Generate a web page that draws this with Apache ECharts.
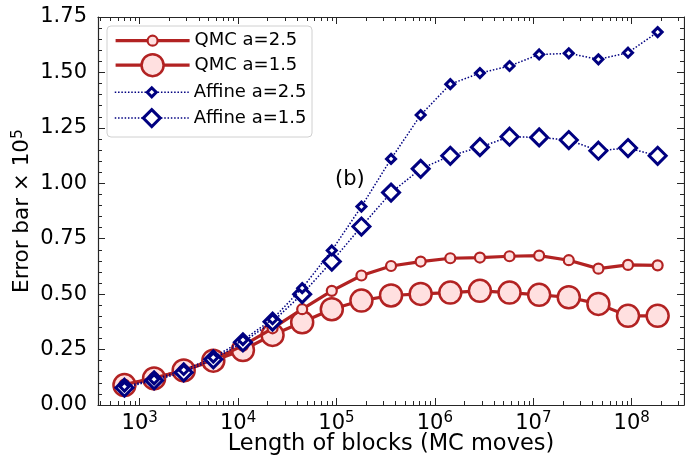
<!DOCTYPE html>
<html><head><meta charset="utf-8">
<script src="https://cdn.jsdelivr.net/npm/echarts@6/dist/echarts.min.js"></script>
<style>html,body{margin:0;padding:0;background:#fff}#c{width:685px;height:462px}</style>
</head><body><div id="c"></div>
<script>
// Block lengths (MC moves)
var blockLengths = [700, 1400, 2800, 5600, 11200, 22400, 44800, 89600, 179200, 358400, 716800, 1433600, 2867200, 5734400, 11468800, 22937600, 45875200, 91750400, 183500800];
var qmcA25 = [0.092, 0.122, 0.156, 0.205, 0.268, 0.346, 0.432, 0.515, 0.584, 0.627, 0.647, 0.662, 0.665, 0.671, 0.674, 0.653, 0.615, 0.632, 0.630];
var qmcA15 = [0.090, 0.120, 0.156, 0.200, 0.248, 0.316, 0.373, 0.432, 0.471, 0.494, 0.501, 0.507, 0.515, 0.507, 0.497, 0.486, 0.456, 0.402, 0.402];
var affA25 = [0.083, 0.116, 0.158, 0.214, 0.293, 0.387, 0.527, 0.697, 0.895, 1.110, 1.308, 1.447, 1.497, 1.529, 1.581, 1.586, 1.559, 1.589, 1.682];
var affA15 = [0.078, 0.111, 0.147, 0.206, 0.283, 0.376, 0.500, 0.647, 0.805, 0.958, 1.065, 1.124, 1.163, 1.210, 1.207, 1.195, 1.147, 1.159, 1.124];
var seriesNames = ['QMC a=2.5', 'QMC a=1.5', 'Affine a=2.5', 'Affine a=1.5'];
var xMajorTicks = [1e3, 1e4, 1e5, 1e6, 1e7, 1e8];

var xMin = 377, xMax = 3.4e8;
var xMinorTicks = [];
[100, 1e3, 1e4, 1e5, 1e6, 1e7, 1e8].forEach(function (d) {
  for (var k = 2; k <= 9; k++) { var v = d * k; if (v > xMin && v < xMax) xMinorTicks.push(v); }
});
function pairs(ys) { return blockLengths.map(function (x, i) { return [x, ys[i]]; }); }

var FONT = 'DejaVu Sans';
var RED = '#b22222', PINK = '#ffe0e0', NAVY = '#000080';
var axisColor = '#262626';
var symSizes = [10, 22, 9, 17];

function xAxisDef(pos, major) {
  return {
    type: 'log', logBase: 10, min: xMin, max: xMax, position: pos, gridIndex: 0,
    axisLine: { show: major, onZero: false, lineStyle: { color: axisColor, width: 1.2 } },
    axisTick: { show: true, inside: true, length: major ? 7 : 4, customValues: major ? xMajorTicks : xMinorTicks,
      lineStyle: { color: axisColor, width: 1 } },
    axisLabel: { show: major && pos === 'bottom', customValues: xMajorTicks, margin: 6,
      formatter: function (v) { return '{b|10}{s|' + Math.round(Math.log10(v)) + '}'; },
      rich: { b: { fontFamily: FONT, fontSize: 21, color: '#000' }, s: { fontFamily: FONT, fontSize: 15, color: '#000', padding: [0, 0, 10, 0] } } },
    splitLine: { show: false }, minorTick: { show: false }, minorSplitLine: { show: false },
    name: (major && pos === 'bottom') ? 'Length of blocks (MC moves)' : '',
    nameLocation: 'middle', nameGap: 28, nameMoveOverlap: false,
    nameTextStyle: { fontFamily: FONT, fontSize: 22.5, color: '#000' }
  };
}
function yAxisDef(pos) {
  return {
    type: 'value', min: 0, max: 1.75, interval: 0.25, position: pos,
    axisLine: { show: true, onZero: false, lineStyle: { color: axisColor, width: 1.2 } },
    axisTick: { show: true, inside: true, length: 7, lineStyle: { color: axisColor, width: 1 } },
    minorTick: { show: true, splitNumber: 5, length: 4, lineStyle: { color: axisColor, width: 1 } },
    axisLabel: { show: pos === 'left', margin: 11, fontFamily: FONT, fontSize: 21, color: '#000',
      formatter: function (v) { return v.toFixed(2); } },
    splitLine: { show: false },
    name: pos === 'left' ? '{a|Error bar \u00d7 10}{s|5}' : '',
    nameLocation: 'middle', nameGap: 63, nameRotate: 90, nameMoveOverlap: false,
    nameTextStyle: { rich: { a: { fontFamily: FONT, fontSize: 21.5, color: '#000' }, s: { fontFamily: FONT, fontSize: 15.5, color: '#000', padding: [0, 0, 9, 0] } } }
  };
}

// one legend per row so each row keeps its own marker size
var rowCenters = [40.7, 66.7, 92.3, 118.7];
var legends = seriesNames.map(function (n, i) {
  var ih = symSizes[i] / 0.8;
  return {
    orient: 'vertical', left: 114, top: rowCenters[i] - Math.max(ih, 20) / 2,
    itemWidth: 74, itemHeight: ih, padding: 0, z: 6,
    textStyle: { fontFamily: FONT, fontSize: 18, color: '#000', lineHeight: 20 },
    lineStyle: { width: 'inherit', type: 'inherit' },
    itemStyle: { borderWidth: 'inherit' },
    data: [n]
  };
});

var chart = echarts.init(document.getElementById('c'), null, { renderer: 'canvas' });
chart.setOption({
  animation: false,
  backgroundColor: '#fff',
  grid: { left: 98, right: 1, top: 17, bottom: 57, containLabel: false, outerBoundsMode: 'none' },
  xAxis: [xAxisDef('bottom', true), xAxisDef('bottom', false), xAxisDef('top', true), xAxisDef('top', false)],
  yAxis: [yAxisDef('left'), yAxisDef('right')],
  legend: legends,
  graphic: [
    { type: 'rect', z: 5, shape: { x: 107, y: 26, width: 205, height: 111, r: 4 },
      style: { fill: 'rgba(255,255,255,0.85)', stroke: '#d0d0d0', lineWidth: 1 } },
    { type: 'text', z: 5, left: 335, top: 169, style: { text: '(b)', fontFamily: FONT, fontSize: 21, fill: '#000' } }
  ],
  series: [
    { name: seriesNames[0], type: 'line', data: pairs(qmcA25), z: 3,
      symbol: 'circle', symbolSize: symSizes[0], showAllSymbol: true,
      lineStyle: { color: RED, width: 3.2 },
      itemStyle: { color: PINK, borderColor: RED, borderWidth: 2.2 } },
    { name: seriesNames[1], type: 'line', data: pairs(qmcA15), z: 2,
      symbol: 'circle', symbolSize: symSizes[1], showAllSymbol: true,
      lineStyle: { color: RED, width: 3.2 },
      itemStyle: { color: PINK, borderColor: RED, borderWidth: 2.5 } },
    { name: seriesNames[2], type: 'line', data: pairs(affA25), z: 4.5,
      symbol: 'diamond', symbolSize: symSizes[2], showAllSymbol: true,
      lineStyle: { color: NAVY, width: 1.5, type: [1.5, 1.8] },
      itemStyle: { color: '#fff', borderColor: NAVY, borderWidth: 3 } },
    { name: seriesNames[3], type: 'line', data: pairs(affA15), z: 4,
      symbol: 'diamond', symbolSize: symSizes[3], showAllSymbol: true,
      lineStyle: { color: NAVY, width: 1.5, type: [1.5, 1.8] },
      itemStyle: { color: '#fff', borderColor: NAVY, borderWidth: 3 } }
  ]
});
</script></body></html>
